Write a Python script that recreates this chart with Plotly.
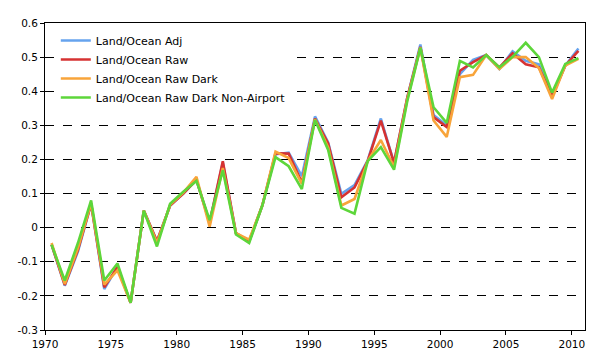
import plotly.graph_objects as go

years = list(range(1970, 2011))

adj = [-0.05, -0.17, -0.07, 0.07, -0.18, -0.115, -0.22, 0.05, -0.04, 0.065,
       0.10, 0.14, 0.015, 0.19, -0.016, -0.04, 0.065, 0.215, 0.22, 0.151,
       0.326, 0.25, 0.099, 0.125, 0.197, 0.32, 0.19, 0.38, 0.537, 0.33,
       0.30, 0.45, 0.492, 0.506, 0.465, 0.517, 0.489, 0.479, 0.386, 0.475, 0.525]

raw = [-0.05, -0.168, -0.065, 0.07, -0.175, -0.115, -0.22, 0.05, -0.04, 0.065,
       0.10, 0.14, 0.015, 0.195, -0.016, -0.04, 0.065, 0.218, 0.217, 0.132,
       0.32, 0.247, 0.089, 0.118, 0.195, 0.314, 0.19, 0.38, 0.53, 0.324,
       0.295, 0.46, 0.485, 0.506, 0.47, 0.511, 0.479, 0.47, 0.386, 0.475, 0.518]

raw_dark = [-0.045, -0.165, -0.06, 0.072, -0.167, -0.125, -0.22, 0.05, -0.045, 0.067,
            0.103, 0.149, 0.003, 0.175, -0.016, -0.035, 0.065, 0.223, 0.204, 0.128,
            0.318, 0.235, 0.065, 0.084, 0.195, 0.257, 0.178, 0.375, 0.528, 0.314,
            0.266, 0.441, 0.448, 0.506, 0.465, 0.50, 0.50, 0.468, 0.377, 0.475, 0.495]

non_airport = [-0.05, -0.155, -0.045, 0.08, -0.155, -0.105, -0.22, 0.05, -0.055, 0.07,
               0.105, 0.137, 0.022, 0.168, -0.02, -0.045, 0.065, 0.207, 0.18, 0.113,
               0.316, 0.228, 0.058, 0.041, 0.195, 0.236, 0.17, 0.37, 0.527, 0.353,
               0.307, 0.489, 0.47, 0.506, 0.47, 0.501, 0.542, 0.50, 0.396, 0.48, 0.497]

series_names = ["Land/Ocean Adj", "Land/Ocean Raw", "Land/Ocean Raw Dark",
                "Land/Ocean Raw Dark Non-Airport"]
series_colors = ["#66A3EE", "#D63232", "#F8A43A", "#5DD63A"]

x_tick_labels = ["1970", "1975", "1980", "1985", "1990", "1995", "2000", "2005", "2010"]
y_tick_vals = [-0.3, -0.2, -0.1, 0, 0.1, 0.2, 0.3, 0.4, 0.5, 0.6]
y_tick_text = ["-0.3", "-0.2", "-0.1", "0", "0.1", "0.2", "0.3", "0.4", "0.5", "0.6"]

fig = go.Figure()
for name, vals, col in zip(series_names, [adj, raw, raw_dark, non_airport], series_colors):
    fig.add_trace(go.Scatter(x=years, y=vals, mode="lines", name=name,
                             line=dict(color=col, width=2.6)))

x_tick_pos = [int(t) - 0.5 for t in x_tick_labels]

# page body has an 8px default margin, so the figure is sized to fit the window
fig.update_layout(
    width=587, height=351,
    margin=dict(l=35, r=9, t=9, b=29),
    plot_bgcolor="white", paper_bgcolor="white",
    font=dict(family="DejaVu Sans, Verdana, sans-serif", size=10.5, color="black"),
    legend=dict(x=0.02, y=0.99, xanchor="left", yanchor="top",
                bgcolor="white", font=dict(size=11),
                tracegroupgap=0, itemwidth=30),
    showlegend=True,
)
fig.update_xaxes(range=[1969.5, 2010.5], tickvals=x_tick_pos, ticktext=x_tick_labels,
                 showline=True, linecolor="black", linewidth=1, mirror=True,
                 ticks="outside", ticklen=4, tickcolor="black", showgrid=False,
                 zeroline=False)
fig.update_yaxes(range=[-0.3, 0.6], tickvals=y_tick_vals, ticktext=y_tick_text,
                 showline=True, linecolor="black", linewidth=1, mirror=True,
                 ticks="outside", ticklen=4, tickcolor="black",
                 showgrid=True, gridcolor="black", gridwidth=1, griddash="dash",
                 zeroline=False)

fig.write_html("out.html")
